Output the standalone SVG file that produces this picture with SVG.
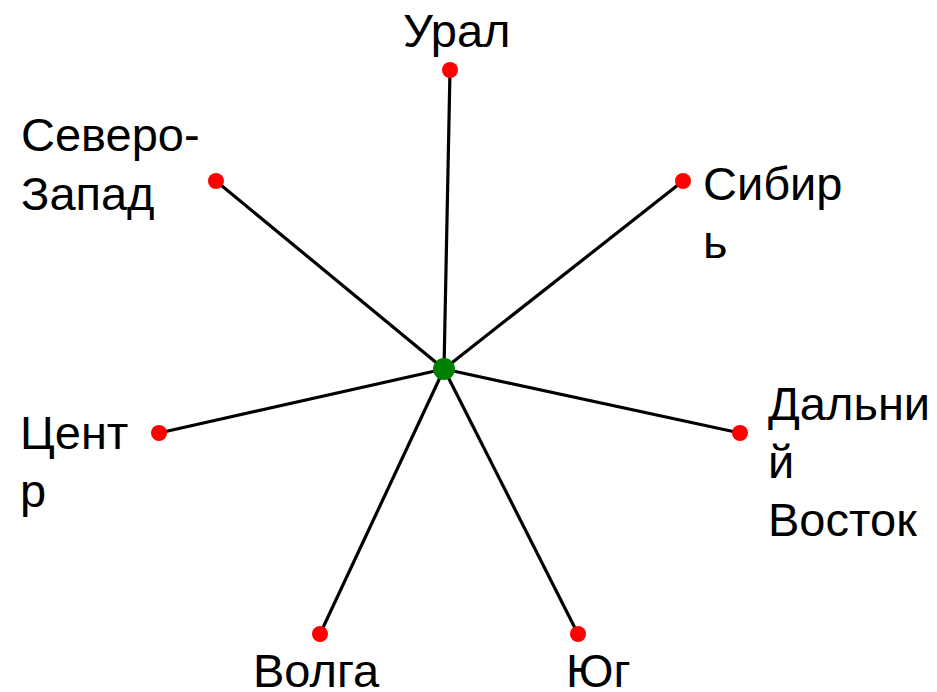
<svg xmlns="http://www.w3.org/2000/svg" width="937" height="692" viewBox="0 0 937 692">
  <style>
    .edge { stroke: #000; stroke-width: 3.2; fill: none; }
    .leaf { fill: #ff0000; }
    .hub { fill: #008000; }
    .lbl { font-family: "Liberation Sans", Arial, sans-serif; font-size: 47px; fill: #000; }
  </style>
  <rect width="937" height="692" fill="#fff"/>
  <g id="connectors">
    <line class="edge" x1="444" y1="369" x2="450" y2="70"/>
    <line class="edge" x1="444" y1="369" x2="683" y2="181"/>
    <line class="edge" x1="444" y1="369" x2="740" y2="433"/>
    <line class="edge" x1="444" y1="369" x2="578" y2="634"/>
    <line class="edge" x1="444" y1="369" x2="320" y2="634"/>
    <line class="edge" x1="444" y1="369" x2="159" y2="433"/>
    <line class="edge" x1="444" y1="369" x2="216" y2="181"/>
  </g>
  <g id="node-ural">
    <circle class="leaf" cx="450" cy="70" r="8"/>
    <text class="lbl" x="403" y="47">Урал</text>
  </g>
  <g id="node-sibir">
    <circle class="leaf" cx="683" cy="181" r="8"/>
    <text class="lbl" x="703" y="200">Сибир</text>
    <text class="lbl" x="703" y="258">ь</text>
  </g>
  <g id="node-dalniy-vostok">
    <circle class="leaf" cx="740" cy="433" r="8"/>
    <text class="lbl" x="768" y="420">Дальни</text>
    <text class="lbl" x="768" y="478">й</text>
    <text class="lbl" x="768" y="536">Восток</text>
  </g>
  <g id="node-yug">
    <circle class="leaf" cx="578" cy="634" r="8"/>
    <text class="lbl" x="566" y="687">Юг</text>
  </g>
  <g id="node-volga">
    <circle class="leaf" cx="320" cy="634" r="8"/>
    <text class="lbl" x="253" y="687">Волга</text>
  </g>
  <g id="node-centr">
    <circle class="leaf" cx="159" cy="433" r="8"/>
    <text class="lbl" x="20" y="449">Цент</text>
    <text class="lbl" x="20" y="507">р</text>
  </g>
  <g id="node-severo-zapad">
    <circle class="leaf" cx="216" cy="181" r="8"/>
    <text class="lbl" x="21" y="151">Северо-</text>
    <text class="lbl" x="21" y="210">Запад</text>
  </g>
  <g id="node-center">
    <circle class="hub" cx="444" cy="369" r="11"/>
  </g>
</svg>
